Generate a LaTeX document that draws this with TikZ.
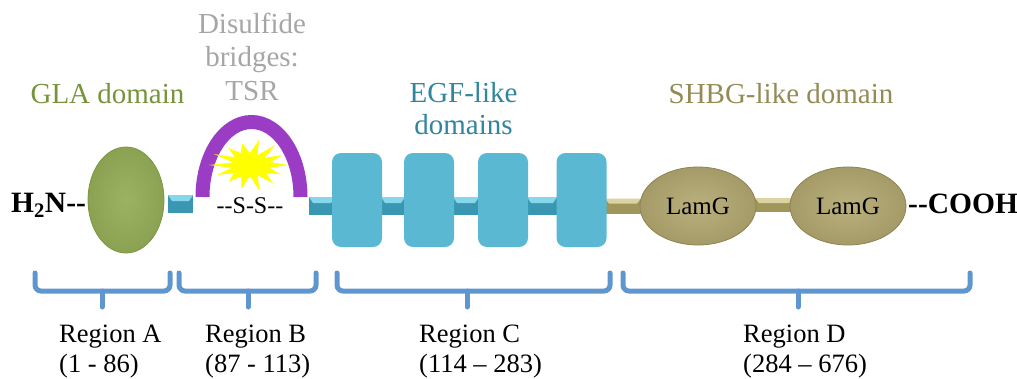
\documentclass[tikz,border=0pt]{standalone}
\usepackage{fontspec}
\setmainfont{Liberation Serif}
\usetikzlibrary{shapes.geometric}
\definecolor{glatext}{HTML}{77933C}
\definecolor{glafill}{HTML}{93AC56}
\definecolor{glaedge}{HTML}{7C9743}
\definecolor{graytext}{HTML}{A6A6A6}
\definecolor{egftext}{HTML}{31859C}
\definecolor{egfbox}{HTML}{5BB8D2}
\definecolor{shbgtext}{HTML}{948A54}
\definecolor{khakifill}{HTML}{B3A870}
\definecolor{khakiedge}{HTML}{8E8352}
\definecolor{archpurple}{HTML}{9A3DC4}
\definecolor{starY}{HTML}{FFFF00}
\definecolor{bracecol}{HTML}{6096D0}
\definecolor{tealdark}{HTML}{3A97B2}
\definecolor{teallight}{HTML}{86D6EC}
\definecolor{khakidark}{HTML}{A0965C}
\definecolor{khakilight}{HTML}{DCD3A2}
\tikzset{
  lab/.style={inner sep=0pt, font=\fontsize{29}{34}\selectfont},
  reglab/.style={inner sep=0pt, anchor=base west, font=\fontsize{26.5}{30}\selectfont},
  endlab/.style={inner sep=0pt, font=\bfseries\fontsize{29.5}{34}\selectfont},
  linkerT/.style={rectangle, inner sep=0pt, fill=tealdark,
    path picture={\fill[teallight] (path picture bounding box.north west) -- (path picture bounding box.north east)
      -- ([xshift=-4pt,yshift=-6pt]path picture bounding box.north east) -- ([xshift=4pt,yshift=-6pt]path picture bounding box.north west) -- cycle;}},
  linkerK/.style={rectangle, inner sep=0pt, fill=khakidark,
    path picture={\fill[khakilight] (path picture bounding box.north west) -- (path picture bounding box.north east)
      -- ([xshift=-4pt,yshift=-5pt]path picture bounding box.north east) -- ([xshift=4pt,yshift=-5pt]path picture bounding box.north west) -- cycle;}},
  egf/.style={rectangle, rounded corners=9pt, fill=egfbox, minimum width=50pt, minimum height=94pt, inner sep=0pt},
  lamg/.style={ellipse, draw=khakiedge, line width=0.8pt, inner color=khakifill!90!white, outer color=khakifill!92!black,
    minimum width=116pt, minimum height=78pt, inner sep=0pt, font=\fontsize{25}{29}\selectfont},
  brace/.style={draw=bracecol, line width=5pt, rounded corners=6pt, line cap=round},
}
\begin{document}
\begin{tikzpicture}[x=1pt,y=-1pt]
\useasboundingbox (0,0) rectangle (1017,378);
% top labels
\node[lab, text=glatext, anchor=base] (glalab) at (107.5,103) {GLA domain};
\node[lab, text=graytext, anchor=base] (ds1) at (252,33) {Disulfide};
\node[lab, text=graytext, anchor=base] (ds2) at (252,66.5) {bridges:};
\node[lab, text=graytext, anchor=base] (ds3) at (252,100) {TSR};
\node[lab, text=egftext, anchor=base] (egf1) at (463.5,102) {EGF-like};
\node[lab, text=egftext, anchor=base] (egf2) at (463.5,134) {domains};
\node[lab, text=shbgtext, anchor=base] (shbglab) at (781,103) {SHBG-like domain};
% linkers
\node[linkerT, minimum width=25pt, minimum height=18pt] (l1) at (180.5,204) {};
\node[linkerT, minimum width=26pt, minimum height=18pt] (l2) at (322,206) {};
\node[linkerT, minimum width=24pt, minimum height=18pt] (l3) at (393,206) {};
\node[linkerT, minimum width=26pt, minimum height=18pt] (l4) at (466,206) {};
\node[linkerT, minimum width=30pt, minimum height=18pt] (l5) at (542,206) {};
\node[linkerK, minimum width=36pt, minimum height=15pt] (l6) at (623,206) {};
\node[linkerK, minimum width=38pt, minimum height=14pt] (l7) at (774,205) {};
% GLA
\node[ellipse, draw=glaedge, line width=0.8pt, inner color=glafill!92!white, outer color=glafill!94!black,
  minimum width=76pt, minimum height=106pt, inner sep=0pt] (gla) at (126,200) {};
% TSR arch
\draw[archpurple, line width=14pt] (202.5,197) arc[start angle=180, end angle=360, x radius=49, y radius=75];
\fill[starY, shift={(250,165)}] (0:38 and 24)
  \foreach \i in {1,...,27} { -- ({\i*360/28}:{(isodd(\i)?0.5:1)*(1+0.1*sin(\i*137))*38} and {(isodd(\i)?0.5:1)*(1+0.1*sin(\i*137))*24}) } -- cycle;
\node[inner sep=0pt, font=\fontsize{24}{28}\selectfont, anchor=base] (ss) at (250,213) {-{}-S-S-{}-};
% EGF boxes
\node[egf] (e1) at (357,200) {};
\node[egf] (e2) at (429,200) {};
\node[egf] (e3) at (503,200) {};
\node[egf] (e4) at (581.5,200) {};
% LamG
\node[lamg] (lg1) at (698,206) {LamG};
\node[lamg] (lg2) at (848,206) {LamG};
% ends
\node[endlab, anchor=base west] (hn) at (11,212) {H\textsubscript{2}N-{}-};
\node[endlab, anchor=base west] (cooh) at (908,213) {-{}-COOH};
% braces
\draw[brace] (35,273) -- (35,291) -- (170,291) -- (170,273);
\draw[brace] (102,291) -- (102,307);
\draw[brace] (179,273) -- (179,291) -- (316,291) -- (316,273);
\draw[brace] (248,291) -- (248,307);
\draw[brace] (337,273) -- (337,291) -- (610,291) -- (610,273);
\draw[brace] (467,291) -- (467,307);
\draw[brace] (623,273) -- (623,291) -- (970,291) -- (970,273);
\draw[brace] (798,291) -- (798,307);
% region labels
\node[reglab] (ra1) at (59,342) {Region A};
\node[reglab] (ra2) at (59,372) {(1 - 86)};
\node[reglab] (rb1) at (205,342) {Region B};
\node[reglab] (rb2) at (205,372) {(87 - 113)};
\node[reglab] (rc1) at (419,342) {Region C};
\node[reglab] (rc2) at (419,372) {(114 – 283)};
\node[reglab] (rd1) at (743,342) {Region D};
\node[reglab] (rd2) at (743,372) {(284 – 676)};
\end{tikzpicture}
\end{document}
